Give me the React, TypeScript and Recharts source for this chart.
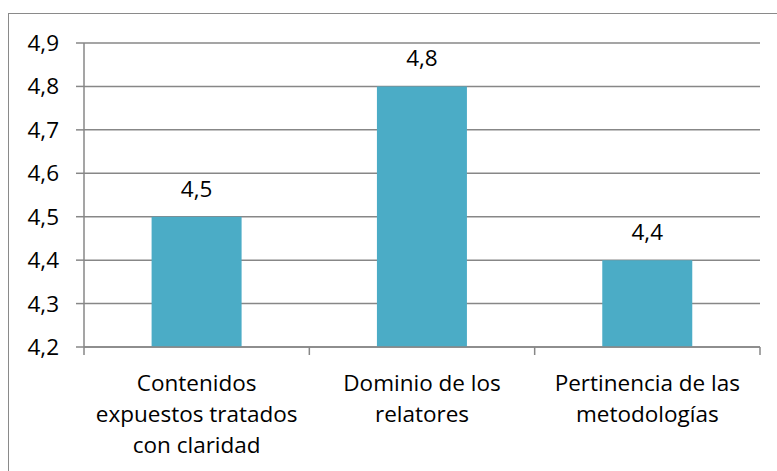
import React from 'react';
import { BarChart, Bar, XAxis, YAxis, CartesianGrid, LabelList } from 'recharts';

const categories = ['Contenidos expuestos tratados con claridad', 'Dominio de los relatores', 'Pertinencia de las metodologías'];
const categoryLines = [
  ['Contenidos', 'expuestos tratados', 'con claridad'],
  ['Dominio de los', 'relatores'],
  ['Pertinencia de las', 'metodologías'],
];
const values = [4.5, 4.8, 4.4];
const yTicks = [4.2, 4.3, 4.4, 4.5, 4.6, 4.7, 4.8, 4.9];

const data = categories.map((c, i) => ({ name: c, value: values[i], idx: i }));

const FONT = '"Open Sans", Lato, sans-serif';
const FS = 22.5;
const GRAY = '#878787';
const W = 777;
const H = 471;
const M = { top: 43, right: 17, left: 0, bottom: 0 };
const Y_W = 84;

const fmt = (v: number) => v.toFixed(1).replace('.', ',');

const XTick = (props: any) => {
  const { x, y, payload } = props;
  const band = (W - Y_W - M.right - M.left) / categories.length;
  const lines = categoryLines[payload.index] || [String(payload.value)];
  const axisY = y - 8;
  return (
    <g>
      <line x1={x - band / 2} x2={x - band / 2} y1={axisY} y2={axisY + 8} stroke={GRAY} strokeWidth={1.5} />
      {payload.index === categories.length - 1 && (
        <line x1={x + band / 2} x2={x + band / 2} y1={axisY} y2={axisY + 8} stroke={GRAY} strokeWidth={1.5} />
      )}
      <text x={x} y={y} textAnchor="middle" fontFamily={FONT} fontSize={FS} fill="#000">
        {lines.map((l: string, i: number) => (
          <tspan key={i} x={x} dy={i === 0 ? 36 : 31}>{l}</tspan>
        ))}
      </text>
    </g>
  );
};

export default function App() {
  return (
    <div style={{ position: 'absolute', left: 0, top: 0, width: W, height: H, background: '#fff', overflow: 'hidden' }}>
      <div style={{ position: 'absolute', left: 8, top: 13, width: 900, height: 600, border: '1.5px solid #8a8a8a', boxSizing: 'border-box' }} />
      <div style={{ position: 'absolute', left: 0, top: 0 }}>
        <BarChart width={W} height={H} data={data} margin={M} barCategoryGap="30%">
          <CartesianGrid vertical={false} stroke={GRAY} strokeWidth={1.5} />
          <XAxis
            dataKey="name"
            height={H - 347}
            interval={0}
            tickSize={8}
            tickMargin={0}
            tickLine={false}
            axisLine={{ stroke: GRAY, strokeWidth: 1.5 }}
            tick={<XTick />}
          />
          <YAxis
            width={Y_W}
            domain={[4.2, 4.9]}
            ticks={yTicks}
            interval={0}
            allowDataOverflow
            tickFormatter={fmt}
            tickSize={8}
            tickMargin={17}
            tickLine={{ stroke: GRAY, strokeWidth: 1.5 }}
            axisLine={{ stroke: GRAY, strokeWidth: 1.5 }}
            tick={{ fill: '#000', fontSize: FS, fontFamily: FONT }}
          />
          <Bar dataKey="value" fill="#4BACC6" isAnimationActive={false}>
            <LabelList dataKey="value" position="top" offset={20} formatter={(v: any) => fmt(Number(v))} fill="#000" fontSize={FS} fontFamily={FONT} />
          </Bar>
        </BarChart>
      </div>
    </div>
  );
}
